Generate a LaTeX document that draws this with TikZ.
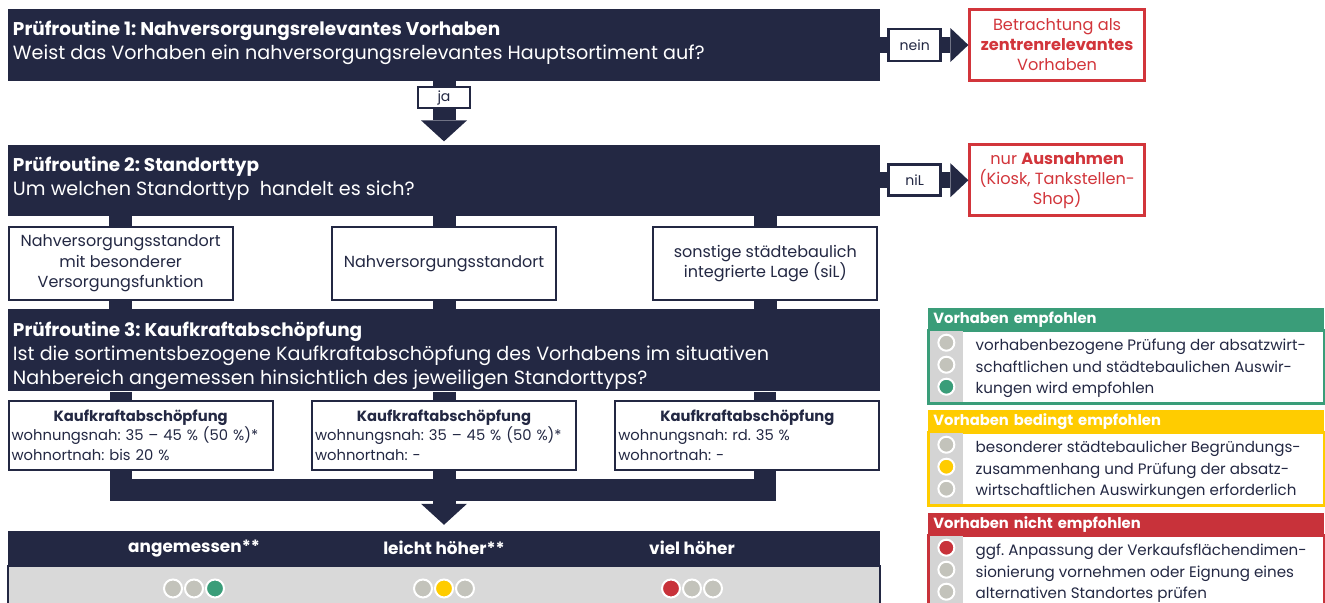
\documentclass[tikz,border=0pt]{standalone}
\usepackage{fontspec}
\setmainfont{Poppins}
\usetikzlibrary{positioning,arrows.meta,calc,backgrounds}
\definecolor{navy}{RGB}{35,40,67}
\definecolor{okgreen}{RGB}{58,157,121}
\definecolor{okyellow}{RGB}{255,204,0}
\definecolor{nored}{RGB}{200,50,58}
\definecolor{boxred}{RGB}{210,53,59}
\definecolor{dotgrey}{RGB}{195,195,187}
\definecolor{bandgrey}{RGB}{217,217,217}
\definecolor{colgrey}{RGB}{212,212,212}
\tikzset{
  fig/.style={x=0.2mm,y=-0.2mm,text=navy},
  routine/.style={fill=navy,minimum width=174.4mm,inner sep=0pt},
  rtext/.style={anchor=north west,align=left,inner sep=0pt,text=white,
                font=\fontsize{10.9}{13.7}\selectfont},
  optbox/.style={draw=navy,line width=0.4mm,fill=white,minimum width=44.8mm,
                 minimum height=14.6mm,align=center,inner sep=1pt,
                 font=\fontsize{9.1}{11.7}\selectfont},
  kkbox/.style={draw=navy,line width=0.4mm,fill=white,text width=51.6mm,
                inner xsep=0.6mm,minimum height=13.8mm,align=left,
                font=\fontsize{8.4}{11.2}\selectfont},
  exitbox/.style={draw=boxred,line width=0.5mm,fill=white,minimum width=35mm,
                  minimum height=14.2mm,align=center,inner sep=1pt,text=boxred,
                  font=\fontsize{9.2}{11.4}\selectfont},
  tag/.style={draw=navy,line width=0.5mm,fill=white,minimum width=10.4mm,
              inner sep=0pt,font=\fontsize{8}{9}\selectfont},
  bar/.style={navy,line width=4.6mm},
  vbar/.style={bar,-{Triangle[length=4.2mm,width=9.2mm,line width=0pt]}},
  hbar/.style={navy,line width=3.2mm,-{Triangle[length=3.6mm,width=6.8mm,line width=0pt]}},
  reslabel/.style={text=white,font=\bfseries\fontsize{9.6}{11}\selectfont},
  band/.style={fill=bandgrey,draw=navy,line width=0.3mm,minimum width=174.4mm,
               minimum height=9.4mm},
  lamp/.style={circle,fill=#1,draw=white,line width=0.4mm,minimum size=3.6mm,
               inner sep=0pt},
  lghead/.style={anchor=north west,minimum height=4.4mm,text width=77.2mm,
                 inner xsep=1mm,inner ysep=0pt,align=left,text=white,
                 font=\bfseries\fontsize{8.4}{10}\selectfont},
  lgbody/.style={minimum width=79.2mm,minimum height=14.6mm,line width=0.5mm,
                 inner sep=0pt,outer sep=0pt},
  lgtext/.style={anchor=north west,align=left,inner sep=0pt,
                 font=\fontsize{8.6}{12.3}\selectfont},
}
\begin{document}
\frenchspacing
\begin{tikzpicture}[fig]
\useasboundingbox (0,0) rectangle (1325,602);

% Pruefroutinen
\node[routine,minimum height=14.4mm] (p1) at (444,45) {};
\node[routine,minimum height=14.2mm,below=12.6mm of p1] (p2) {};
\node[routine,minimum height=16.4mm,below=18.6mm of p2] (p3) {};
\node[rtext] (p1t) at ($(p1.north west)+(5,12)$)
  {{\fontsize{10.5}{13.7}\selectfont\textbf{Prüfroutine 1: Nahversorgungsrelevantes Vorhaben}}\\
   Weist das Vorhaben ein nahversorgungsrelevantes Hauptsortiment auf?};
\node[rtext] (p2t) at ($(p2.north west)+(5,12)$)
  {{\fontsize{10.5}{13.7}\selectfont\textbf{Prüfroutine 2: Standorttyp}}\\
   Um welchen Standorttyp\ \ handelt es sich?};
\node[rtext] (p3t) at ($(p3.north west)+(5,12)$)
  {{\fontsize{10.5}{13.7}\selectfont\textbf{Prüfroutine 3: Kaufkraftabschöpfung}}\\
   Ist die sortimentsbezogene Kaufkraftabschöpfung des Vorhabens im situativen\\
   Nahbereich angemessen hinsichtlich des jeweiligen Standorttyps?};

% Ausgaenge rechts
\node[exitbox,right=17.6mm of p1] (ex1)
  {Betrachtung als\\\textbf{zentrenrelevantes}\\Vorhaben};
\node[exitbox,right=17.6mm of p2] (ex2)
  {nur \textbf{Ausnahmen}\\(Kiosk, Tankstellen-\\Shop)};
\draw[hbar] (p1) -- node[tag,pos=0.39,minimum height=6.4mm] (nein) {nein} (ex1);
\draw[hbar] (p2) -- node[tag,pos=0.39,minimum height=6.2mm] (nil) {niL} (ex2);
\draw[vbar,shorten >=0.6mm] (p1) -- node[tag,pos=0.26,minimum height=4.2mm] (ja) {ja} (p2);

% Standorttypen
\node[optbox,below right=2mm and 0mm of p2.south west] (s1)
  {Nahversorgungsstandort\\mit besonderer\\Versorgungsfunktion};
\node[optbox,below=2mm of p2] (s2) {Nahversorgungsstandort};
\node[optbox,below left=2mm and 0.4mm of p2.south east] (s3)
  {sonstige städtebaulich\\integrierte Lage (siL)};

% Kaufkraftabschoepfung
\node[kkbox,below right=1.6mm and 0mm of p3.south west] (k1)
  {{\centering\textbf{Kaufkraftabschöpfung}\par}
   wohnungsnah: 35 – 45 \% (50 \%)*\\wohnortnah: bis 20 \%};
\node[kkbox,below=1.6mm of p3] (k2)
  {{\centering\textbf{Kaufkraftabschöpfung}\par}
   wohnungsnah: 35 – 45 \% (50 \%)*\\wohnortnah: -};
\node[kkbox,below left=1.6mm and 0mm of p3.south east] (k3)
  {{\centering\textbf{Kaufkraftabschöpfung}\par}
   wohnungsnah: rd. 35 \%\\wohnortnah: -};

% Ergebnis
\node[routine,minimum height=6.8mm,below=27.8mm of p3] (res) {};
\node[band,below=0mm of res] (band) {};
\node[reslabel] (lab1) at ($(res.center)+(-250,0)$) {angemessen**};
\node[reslabel] (lab2) at (res.center) {leicht höher**};
\node[reslabel] (lab3) at ($(res.center)+(248,0)$) {viel höher};
\foreach \c [count=\i] in {dotgrey,dotgrey,okgreen}
  \node[lamp=\c] (a\i) at ($(lab1 |- band.north)+(\i*21-42,23)$) {};
\foreach \c [count=\i] in {dotgrey,okyellow,dotgrey}
  \node[lamp=\c] (b\i) at ($(lab2 |- band.north)+(\i*21-42,23)$) {};
\foreach \c [count=\i] in {nored,dotgrey,dotgrey}
  \node[lamp=\c] (c\i) at ($(lab3 |- band.north)+(\i*21-42,23)$) {};

% Verbindungen
\coordinate (jl) at ($(p3.south -| s1)+(0,98)$);
\coordinate (jr) at ($(p3.south -| s3)+(0,98)$);
\begin{scope}[on background layer]
\foreach \s in {s1,s2,s3}
  \draw[bar] (p2.south -| \s) -- (p3.north -| \s);
\draw[bar,line width=4.4mm,miter limit=4] (p3.south -| s1) -- (jl) -- (jr) -- (p3.south -| s3);
\draw[vbar,shorten >=1.2mm] (p3.south -| s2) -- (res.north -| s2);
\end{scope}

% Legende
\node[lghead,fill=okgreen] (lg1) at (928,308) {Vorhaben empfohlen};
\node[lgbody,draw=okgreen,below=0mm of lg1] (lg1b) {};
\node[lghead,fill=okyellow] (lg2) at (928,410) {Vorhaben bedingt empfohlen};
\node[lgbody,draw=okyellow,below=0mm of lg2] (lg2b) {};
\node[lghead,fill=nored] (lg3) at (928,513) {Vorhaben nicht empfohlen};
\node[lgbody,draw=nored,below=0mm of lg3] (lg3b) {};
\foreach \b in {lg1b,lg2b,lg3b}
  \fill[colgrey] ($(\b.north west)+(2,0)$) rectangle ($(\b.south west)+(35,-2)$);
\node[lgtext] (lg1t) at ($(lg1b.north west)+(47,8)$)
  {vorhabenbezogene Prüfung der absatzwirt-\\schaftlichen und städtebaulichen Auswir-\\kungen wird empfohlen};
\node[lgtext] (lg2t) at ($(lg2b.north west)+(47,8)$)
  {besonderer städtebaulicher Begründungs-\\zusammenhang und Prüfung der absatz-\\wirtschaftlichen Auswirkungen erforderlich};
\node[lgtext] (lg3t) at ($(lg3b.north west)+(47,8)$)
  {ggf. Anpassung der Verkaufsflächendimen-\\sionierung vornehmen oder Eignung eines\\alternativen Standortes prüfen};
\foreach \c [count=\i] in {dotgrey,dotgrey,okgreen}
  \node[lamp=\c,minimum size=3.2mm] (g\i) at ($(lg1b.north west)+(18,\i*22-10)$) {};
\foreach \c [count=\i] in {dotgrey,okyellow,dotgrey}
  \node[lamp=\c,minimum size=3.2mm] (y\i) at ($(lg2b.north west)+(18,\i*22-10)$) {};
\foreach \c [count=\i] in {nored,dotgrey,dotgrey}
  \node[lamp=\c,minimum size=3.2mm] (r\i) at ($(lg3b.north west)+(18,\i*22-10)$) {};

\end{tikzpicture}
\end{document}
